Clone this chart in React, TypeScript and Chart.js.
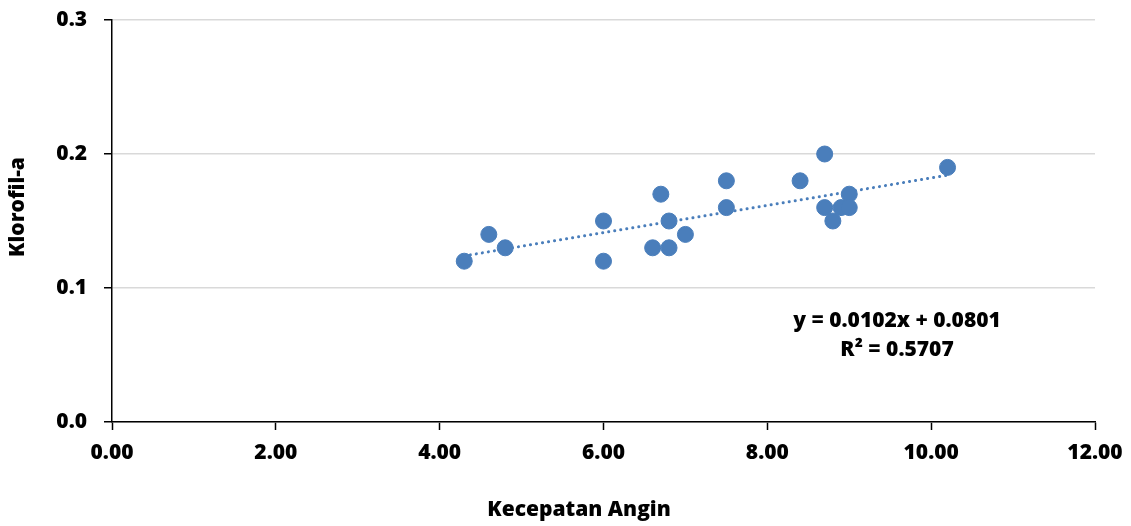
import React, { useEffect, useRef } from "react";
import { Chart, registerables } from "chart.js";

Chart.register(...registerables);

const windSpeed = [4.3, 4.6, 4.8, 6.0, 6.0, 6.6, 6.7, 6.8, 6.8, 7.0, 7.5, 7.5, 8.4, 8.7, 8.7, 8.8, 8.9, 9.0, 9.0, 10.2];
const chlorophyll = [0.12, 0.14, 0.13, 0.15, 0.12, 0.13, 0.17, 0.15, 0.13, 0.14, 0.18, 0.16, 0.18, 0.2, 0.16, 0.15, 0.16, 0.17, 0.16, 0.19];
const trendSlope = 0.0102;
const trendIntercept = 0.0801;
const equationLines = ["y = 0.0102x + 0.0801", "R² = 0.5707"];
const xTitle = "Kecepatan Angin";
const yTitle = "Klorofil-a";

const BLUE = "#4a7ebb";
const FONT = "'Open Sans', Lato, sans-serif";

export default function App() {
  const ref = useRef<HTMLCanvasElement | null>(null);

  useEffect(() => {
    document.body.style.margin = "0";
    const canvas = ref.current;
    if (!canvas) return;

    const points = windSpeed.map((x, i) => ({ x, y: chlorophyll[i] }));
    const xMin = Math.min(...windSpeed);
    const xMax = Math.max(...windSpeed);
    const trend = [xMin, xMax].map((x) => ({ x, y: trendSlope * x + trendIntercept }));

    const textPlugin = {
      id: "textPlugin",
      afterDraw(chart: any) {
        const ctx = chart.ctx as CanvasRenderingContext2D;
        ctx.save();
        ctx.fillStyle = "#000";
        ctx.font = `800 21px ${FONT}`;
        ctx.textAlign = "center";
        ctx.textBaseline = "middle";
        ctx.fillText(equationLines[0], 897, 321);
        ctx.fillText(equationLines[1], 897, 350);
        ctx.fillText(xTitle, 579, 510);
        ctx.translate(18, 207);
        ctx.rotate(-Math.PI / 2);
        ctx.fillText(yTitle, 0, 0);
        ctx.restore();
      },
    };

    const tickFont = { family: FONT, size: 21, weight: 800 as any };

    const chart = new Chart(canvas, {
      type: "scatter",
      data: {
        datasets: [
          {
            type: "scatter",
            label: "Klorofil-a",
            data: points,
            backgroundColor: BLUE,
            borderColor: BLUE,
            pointRadius: 8,
            pointHoverRadius: 8,
            order: 1,
          },
          {
            type: "line",
            label: "Trend",
            data: trend,
            borderColor: BLUE,
            borderWidth: 3,
            borderDash: [0.1, 6],
            borderCapStyle: "round",
            pointRadius: 0,
            fill: false,
            order: 2,
          } as any,
        ],
      },
      options: {
        responsive: false,
        animation: false,
        layout: { padding: { top: 20, right: 36, left: 0, bottom: 0 } },
        plugins: {
          legend: { display: false },
          tooltip: { enabled: false },
        },
        scales: {
          x: {
            type: "linear",
            min: 0,
            max: 12,
            afterFit: (s: any) => {
              s.height = 104;
              s.paddingLeft = 0;
              s.paddingRight = 0;
            },
            ticks: {
              stepSize: 2,
              color: "#000",
              font: tickFont,
              padding: 10,
              callback: (v: any) => Number(v).toFixed(2),
            },
            grid: {
              drawOnChartArea: false,
              drawTicks: true,
              tickLength: 8,
              tickColor: "#000",
              tickWidth: 1.5,
            },
            border: { color: "#000", width: 1.5 },
          },
          y: {
            type: "linear",
            min: 0,
            max: 0.3,
            afterFit: (s: any) => {
              s.width = 112;
              s.paddingTop = 0;
              s.paddingBottom = 0;
            },
            ticks: {
              stepSize: 0.1,
              color: "#000",
              font: tickFont,
              padding: 17,
              callback: (v: any) => Number(v).toFixed(1),
            },
            grid: {
              color: "#d9d9d9",
              lineWidth: 1.5,
              drawTicks: true,
              tickLength: 8,
              tickColor: "#000",
              tickWidth: 1.5,
            },
            border: { color: "#000", width: 1.5 },
          },
        },
      },
      plugins: [textPlugin],
    });

    return () => chart.destroy();
  }, []);

  return <canvas ref={ref} width={1131} height={526} style={{ display: "block" }} />;
}
